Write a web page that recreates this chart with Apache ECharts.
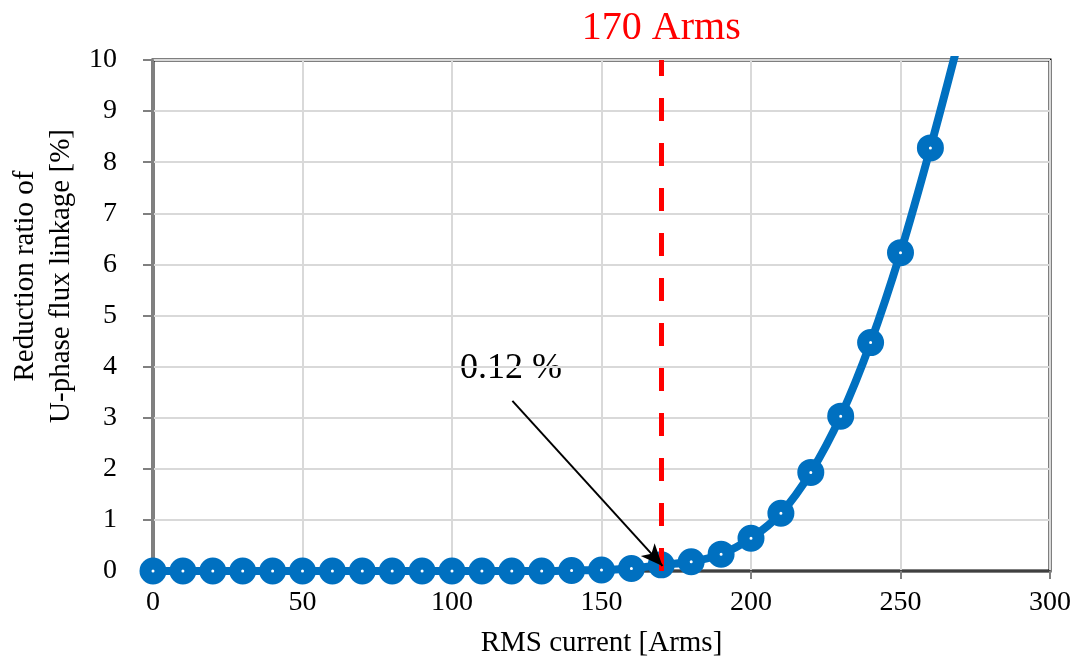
<!DOCTYPE html>
<html>
<head>
<meta charset="utf-8">
<script src="https://cdn.jsdelivr.net/npm/echarts@6/dist/echarts.min.js"></script>
<style>
  html, body { margin: 0; padding: 0; background: #fff; }
  #main { width: 1081px; height: 663px; }
</style>
</head>
<body>
<div id="main"></div>
<script>
// 电流 (Arms) 和 磁链降低率 (%)
var currents = [0, 10, 20, 30, 40, 50, 60, 70, 80, 90, 100, 110, 120, 130, 140, 150, 160, 170, 180, 190, 200, 210, 220, 230, 240, 250, 260, 270];
var ratios = [0, 0, 0, 0, 0, 0, 0, 0, 0, 0, 0, 0, 0, 0, 0.01, 0.02, 0.05, 0.12, 0.18, 0.33, 0.64, 1.13, 1.93, 3.03, 4.47, 6.23, 8.28, 10.5];
var xTicks = [0, 50, 100, 150, 200, 250, 300];
var yTicks = [0, 1, 2, 3, 4, 5, 6, 7, 8, 9, 10];
var markCurrent = 170;
var arrowFrom = [120.2, 3.33];
var arrowTo = [170.4, 0.1];

var serif = '"Liberation Serif", "Times New Roman", serif';
var myChart = echarts.init(document.getElementById('main'));

var points = currents.map(function (c, i) { return [c, ratios[i]]; });

var option = {
  backgroundColor: '#fff',
  animation: false,
  grid: {
    left: 153, right: 31, top: 60, bottom: 90,
    show: true,
    borderColor: '#000',
    borderWidth: 3,
    containLabel: false
  },
  xAxis: {
    type: 'value',
    min: xTicks[0],
    max: xTicks[xTicks.length - 1],
    interval: 50,
    name: 'RMS current [Arms]',
    nameLocation: 'middle',
    nameGap: 58,
    nameTextStyle: { fontFamily: serif, fontSize: 29, color: '#000' },
    axisLine: { lineStyle: { color: '#404040', width: 2 } },
    axisTick: { show: true, inside: false, length: 8, lineStyle: { color: '#808080', width: 2 } },
    axisLabel: { fontFamily: serif, fontSize: 28, color: '#000', margin: 18 },
    splitLine: { show: true, lineStyle: { color: '#d9d9d9', width: 2 } }
  },
  yAxis: {
    type: 'value',
    min: yTicks[0],
    max: yTicks[yTicks.length - 1],
    interval: 1,
    axisLine: { show: true, lineStyle: { color: '#808080', width: 2 } },
    axisTick: { show: true, inside: false, length: 10, lineStyle: { color: '#808080', width: 2 } },
    axisLabel: { fontFamily: serif, fontSize: 28, color: '#000', margin: 36 },
    splitLine: { show: true, lineStyle: { color: '#d9d9d9', width: 2 } }
  },
  graphic: [
    {
      type: 'text',
      x: 43, y: 276,
      rotation: Math.PI / 2,
      style: {
        text: 'Reduction ratio of\nU-phase flux linkage [%]',
        fontFamily: serif,
        fontSize: 29,
        lineHeight: 36,
        fill: '#000',
        align: 'center',
        verticalAlign: 'middle'
      }
    },
    {
      type: 'text',
      left: 460, top: 351,
      style: { text: '0.12 %', fontFamily: serif, fontSize: 36, fill: '#000' }
    }
  ],
  series: [
    {
      name: 'ratio',
      type: 'line',
      data: points,
      smooth: 0.35,
      clip: true,
      symbol: 'circle',
      symbolSize: 15,
      lineStyle: { color: '#0070c0', width: 8 },
      itemStyle: { color: '#fff', borderColor: '#0070c0', borderWidth: 12 },
      z: 3,
      markLine: {
        silent: true,
        symbol: ['none', 'none'],
        animation: false,
        data: [
          {
            xAxis: markCurrent,
            lineStyle: { color: '#ff0000', width: 5, type: [23, 22] },
            label: {
              show: true,
              position: 'end',
              formatter: markCurrent + ' Arms',
              fontFamily: serif,
              fontSize: 40,
              color: '#ff0000',
              distance: 12
            }
          }
        ]
      }
    },
    {
      name: 'arrow',
      type: 'line',
      data: [],
      z: 5,
      markLine: {
        silent: true,
        animation: false,
        symbol: ['none', 'arrow'],
        symbolSize: [14, 22],
        label: { show: false },
        lineStyle: { color: '#000', width: 2, type: 'solid' },
        data: [[{ coord: arrowFrom }, { coord: arrowTo }]]
      }
    }
  ]
};

myChart.setOption(option);
</script>
</body>
</html>
